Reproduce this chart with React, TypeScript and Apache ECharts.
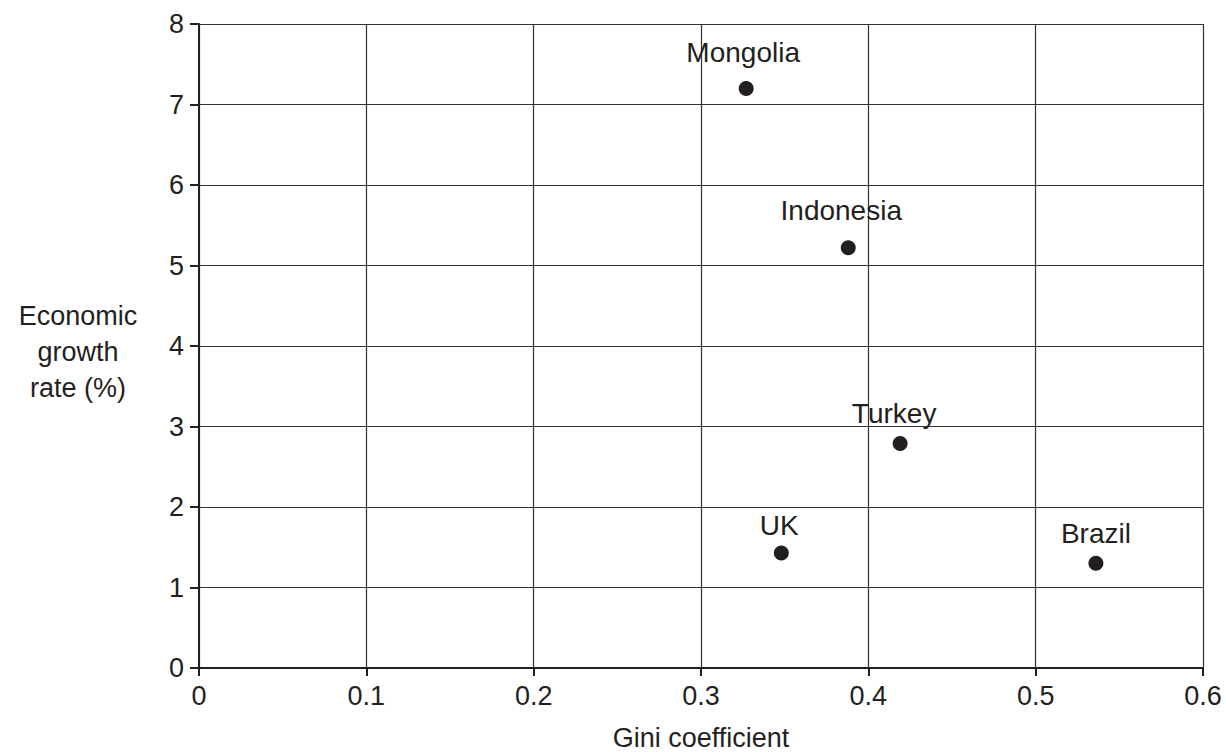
import React, { useEffect, useRef } from "react";
import * as echarts from "echarts";

const countries = ["Mongolia", "Indonesia", "Turkey", "UK", "Brazil"];
const giniValues = [0.327, 0.388, 0.419, 0.348, 0.536];
const growthValues = [7.2, 5.22, 2.79, 1.43, 1.3];
const xTicks = [0, 0.1, 0.2, 0.3, 0.4, 0.5, 0.6];
const yTicks = [0, 1, 2, 3, 4, 5, 6, 7, 8];

// label placement (pixels relative to point centre)
const labelOffsets: [number, number][] = [
  [-3, -36],
  [-7, -37],
  [-6, -30],
  [-2, -27],
  [0, -30],
];

const INK = "#231f20";
const FONT = "'Liberation Sans', Arial, Helvetica, sans-serif";

export default function App() {
  const ref = useRef<HTMLDivElement>(null);
  useEffect(() => {
    document.body.style.margin = "0";
    document.body.style.overflow = "hidden";
    if (!ref.current) return;
    const chart = echarts.init(ref.current, undefined, { renderer: "svg" });
    const data = countries.map((name, i) => ({
      name,
      value: [giniValues[i], growthValues[i]],
      label: { offset: labelOffsets[i] },
    }));
    chart.setOption({
      animation: false,
      backgroundColor: "#ffffff",
      textStyle: { fontFamily: FONT },
      grid: {
        left: 199,
        right: 23,
        top: 24,
        bottom: 84,
        containLabel: false,
        outerBoundsMode: "none",
      },
      xAxis: {
        type: "value",
        min: xTicks[0],
        max: xTicks[xTicks.length - 1],
        interval: 0.1,
        name: "Gini coefficient",
        nameLocation: "middle",
        nameGap: 56,
        nameTextStyle: { color: INK, fontSize: 27, fontFamily: FONT, lineHeight: 27 },
        axisLine: { show: true, onZero: false, lineStyle: { color: INK, width: 2 } },
        axisTick: { show: true, length: 8, lineStyle: { color: INK, width: 2 } },
        axisLabel: {
          color: INK,
          fontSize: 27,
          fontFamily: FONT,
          margin: 14,
          formatter: (v: number) => String(Math.round(v * 10) / 10),
        },
        splitLine: { show: true, lineStyle: { color: "#333333", width: 1.2 } },
      },
      yAxis: {
        type: "value",
        min: yTicks[0],
        max: yTicks[yTicks.length - 1],
        interval: 1,
        axisLine: { show: true, onZero: false, lineStyle: { color: INK, width: 2 } },
        axisTick: { show: true, length: 9, lineStyle: { color: INK, width: 2 } },
        axisLabel: { color: INK, fontSize: 27, fontFamily: FONT, margin: 15 },
        splitLine: { show: true, lineStyle: { color: "#333333", width: 1.2 } },
      },
      graphic: [
        {
          type: "text",
          x: 78,
          y: 352,
          style: {
            text: "Economic\ngrowth\nrate (%)",
            fill: INK,
            fontSize: 27,
            fontFamily: FONT,
            align: "center",
            verticalAlign: "middle",
            lineHeight: 36,
          },
        },
      ],
      series: [
        {
          type: "scatter",
          symbol: "circle",
          symbolSize: 15,
          itemStyle: { color: INK, opacity: 1 },
          data,
          label: {
            show: true,
            position: "inside",
            formatter: "{b}",
            color: INK,
            fontSize: 28,
            fontFamily: FONT,
          },
        },
      ],
    });
    return () => chart.dispose();
  }, []);
  return <div ref={ref} style={{ width: 1226, height: 752 }} />;
}
